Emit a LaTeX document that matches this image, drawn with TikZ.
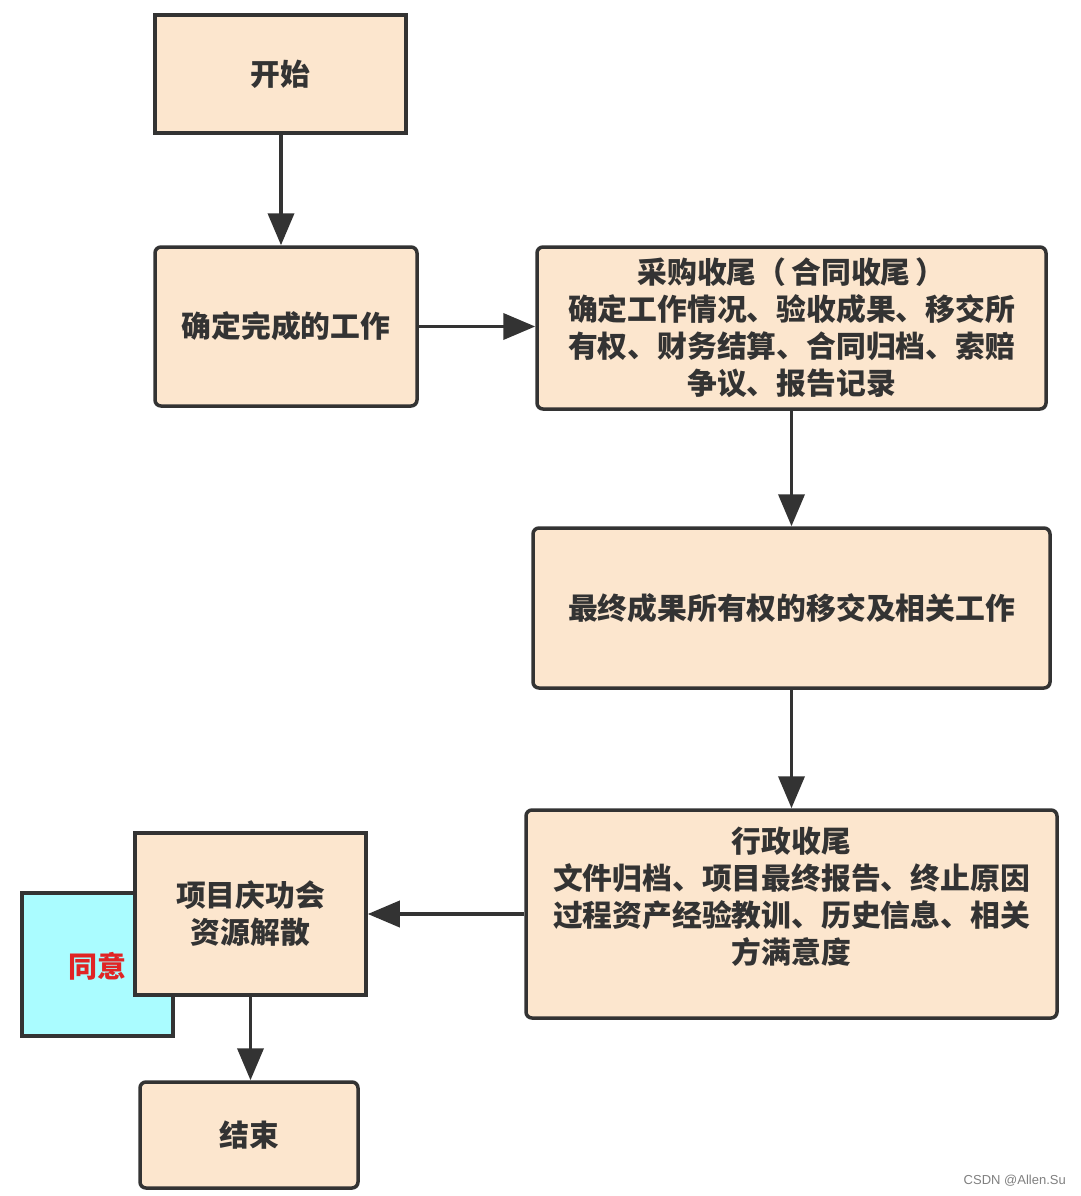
\documentclass[tikz,border=0pt]{standalone}
\usepackage{fontspec}
\newfontfamily\cjk{Noto Sans CJK SC}
\setmainfont{Liberation Sans}
\usetikzlibrary{arrows.meta}
\definecolor{boxfill}{HTML}{FCE6CE}
\definecolor{boxline}{HTML}{333333}
\definecolor{txt}{HTML}{333333}
\definecolor{agreefill}{HTML}{AAFCFF}
\definecolor{agreered}{HTML}{E02424}
\tikzset{
  flowbox/.style={draw=boxline, line width=3.5pt, fill=boxfill, inner sep=0pt,
    font=\cjk\bfseries\fontsize{29.8}{37}\selectfont, text=txt, align=center},
  roundbox/.style={flowbox, rounded corners=6pt},
  boxtext/.style={font=\cjk\bfseries\fontsize{29.8}{37}\selectfont, text=txt, align=center, inner sep=0pt},
  flow/.style={draw=boxline, line width=3.8pt, -{Triangle[length=32pt,width=26pt]}}
}
\begin{document}
\begin{tikzpicture}[x=1pt,y=-1pt]
\useasboundingbox (0,0) rectangle (1080,1196);
\fill[white] (0,0) rectangle (1080,1196);

% process boxes
\node[flowbox, minimum width=251pt, minimum height=118pt] (start) at (280.5,74) {开始};
\node[roundbox, minimum width=262pt, minimum height=159pt] (determine) at (286,326.5) {确定完成的工作};
\node[roundbox, minimum width=509pt, minimum height=162pt] (procure) at (791.5,328)
  {采购收尾（\,合同收尾\,）\\确定工作情况、验收成果、移交所\\有权、财务结算、合同归档、索赔\\争议、报告记录};
\node[roundbox, minimum width=517pt, minimum height=160pt] (transfer) at (791.5,608) {最终成果所有权的移交及相关工作};
\node[roundbox, minimum width=531pt, minimum height=208pt] (admin) at (791.5,914) {};
\node[boxtext] (admintext) at (791.5,897)
  {行政收尾\\文件归档、项目最终报告、终止原因\\过程资产经验教训、历史信息、相关\\方满意度};

% side note behind the celebration box
\node[draw=boxline, line width=3.5pt, fill=agreefill, minimum width=151pt, minimum height=143pt, inner sep=0pt] (agree) at (97.5,964.5) {};
\node[font=\cjk\bfseries\fontsize{29}{34}\selectfont, text=agreered, inner sep=0pt] (agreetext) at (97,966) {同意};

\node[flowbox, minimum width=231pt, minimum height=162pt] (celebrate) at (250.5,914) {项目庆功会\\资源解散};
\node[roundbox, minimum width=218pt, minimum height=106pt] (finish) at (249,1135) {结束};

% connectors
\draw[flow] (start.south -| 281,0) -- (determine.north -| 281,0);
\draw[flow] (determine.east) -- (determine.east -| procure.west);
\draw[flow] (procure.south) -- (transfer.north);
\draw[flow] (transfer.south) -- (admin.north);
\draw[flow] (admin.west) -- (celebrate.east);
\draw[flow] (celebrate.south) -- (celebrate.south |- finish.north);

% watermark
\node[font=\fontsize{13}{15}\selectfont, text=black!50, anchor=east, inner sep=0pt] (mark) at (1066,1181) {CSDN @Allen.Su};
\end{tikzpicture}
\end{document}
